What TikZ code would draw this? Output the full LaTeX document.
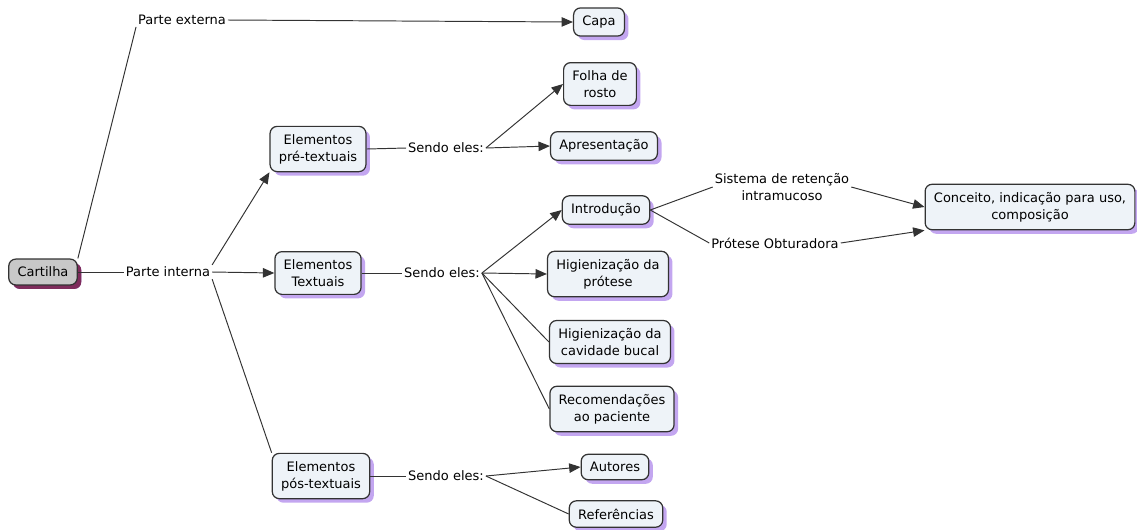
\documentclass[tikz,border=0pt]{standalone}
\usepackage{fontspec}
\setmainfont{DejaVu Sans}
\usepackage{tikz}
\usetikzlibrary{arrows.meta, shadows}
\definecolor{conceptfill}{HTML}{EEF3F8}
\definecolor{rootfill}{HTML}{C8C8C8}
\definecolor{shadowlila}{HTML}{C3A6F0}
\definecolor{shadowroot}{HTML}{7E2C5C}
\definecolor{linegray}{HTML}{333333}
\tikzstyle{concept} = [rectangle, rounded corners=4pt, draw=linegray, line width=0.7pt, fill=conceptfill, align=center, inner xsep=5pt, inner ysep=4.5pt, font=\fontsize{7.4}{9.6}\selectfont, drop shadow={shadow xshift=2.3pt, shadow yshift=-2.3pt, fill=shadowlila, opacity=1}]
\tikzstyle{root} = [concept, fill=rootfill, drop shadow={shadow xshift=2.3pt, shadow yshift=-2.3pt, fill=shadowroot, opacity=1}]
\tikzstyle{linkphrase} = [inner sep=1pt, align=center, font=\fontsize{7.4}{9.6}\selectfont]
\tikzstyle{conn} = [draw=linegray, line width=0.55pt]
\tikzstyle{arr} = [conn, -{Triangle[length=6.5pt, width=5.4pt]}]

\begin{document}
\begin{tikzpicture}[x=0.02cm, y=-0.02cm]
        \useasboundingbox (0,0) rectangle (1137,529);

        \node[root] (cartilha) at (43,272) {Cartilha};
        \node[linkphrase] (pexterna) at (182,20) {Parte externa};
        \node[concept] (capa) at (599,22) {Capa};
        \node[linkphrase] (pinterna) at (168,272) {Parte interna};

        \node[concept] (pretext) at (318,149) {Elementos\\pré-textuais};
        \node[linkphrase] (sendoPre) at (446,148) {Sendo eles:};
        \node[concept] (folha) at (600,84) {Folha de\\rosto};
        \node[concept] (apres) at (604,146) {Apresentação};

        \node[concept] (textuais) at (318,273) {Elementos\\Textuais};
        \node[linkphrase] (sendoText) at (442,273) {Sendo eles:};
        \node[concept] (intro) at (606,210) {Introdução};
        \node[linkphrase] (sistema) at (782,187) {Sistema de retenção\\intramucoso};
        \node[linkphrase] (protese) at (775,243) {Prótese Obturadora};
        \node[concept] (conceito) at (1030,207) {Conceito, indicação para uso,\\composição};
        \node[concept] (higProt) at (608,274) {Higienização da\\prótese};
        \node[concept] (higCav) at (610,342) {Higienização da\\cavidade bucal};
        \node[concept] (recom) at (612,409) {Recomendações\\ao paciente};

        \node[concept] (postext) at (321,476) {Elementos\\pós-textuais};
        \node[linkphrase] (sendoPos) at (446,476) {Sendo eles:};
        \node[concept] (autores) at (615,467) {Autores};
        \node[concept] (refs) at (616,514) {Referências};

        \draw[conn] (cartilha.north east) -- (pexterna.south west);
        \draw[arr] (pexterna.east) -- (capa.west);
        \draw[conn] (cartilha.east) -- (pinterna.west);
        \draw[arr] (pinterna.north east) -- (pretext.south west);
        \draw[arr] (pinterna.east) -- (textuais.west);
        \draw[conn] (pinterna.south east) -- (postext.north west);

        \draw[conn] (pretext.east) -- (sendoPre.west);
        \draw[arr] (sendoPre.east) -- (folha.west);
        \draw[arr] (sendoPre.east) -- (apres.west);

        \draw[conn] (textuais.east) -- (sendoText.west);
        \draw[arr] (sendoText.east) -- (intro.west);
        \draw[arr] (sendoText.east) -- (higProt.west);
        \draw[conn] (sendoText.east) -- (higCav.west);
        \draw[conn] (sendoText.east) -- (recom.west);
        \draw[conn] (intro.east) -- (sistema.west);
        \draw[conn] (intro.east) -- (protese.west);
        \draw[arr] (sistema.east) -- (conceito.west);
        \draw[arr] (protese.east) -- (conceito.south west);

        \draw[conn] (postext.east) -- (sendoPos.west);
        \draw[arr] (sendoPos.east) -- (autores.west);
        \draw[conn] (sendoPos.east) -- (refs.west);
    \end{tikzpicture}
\end{document}
